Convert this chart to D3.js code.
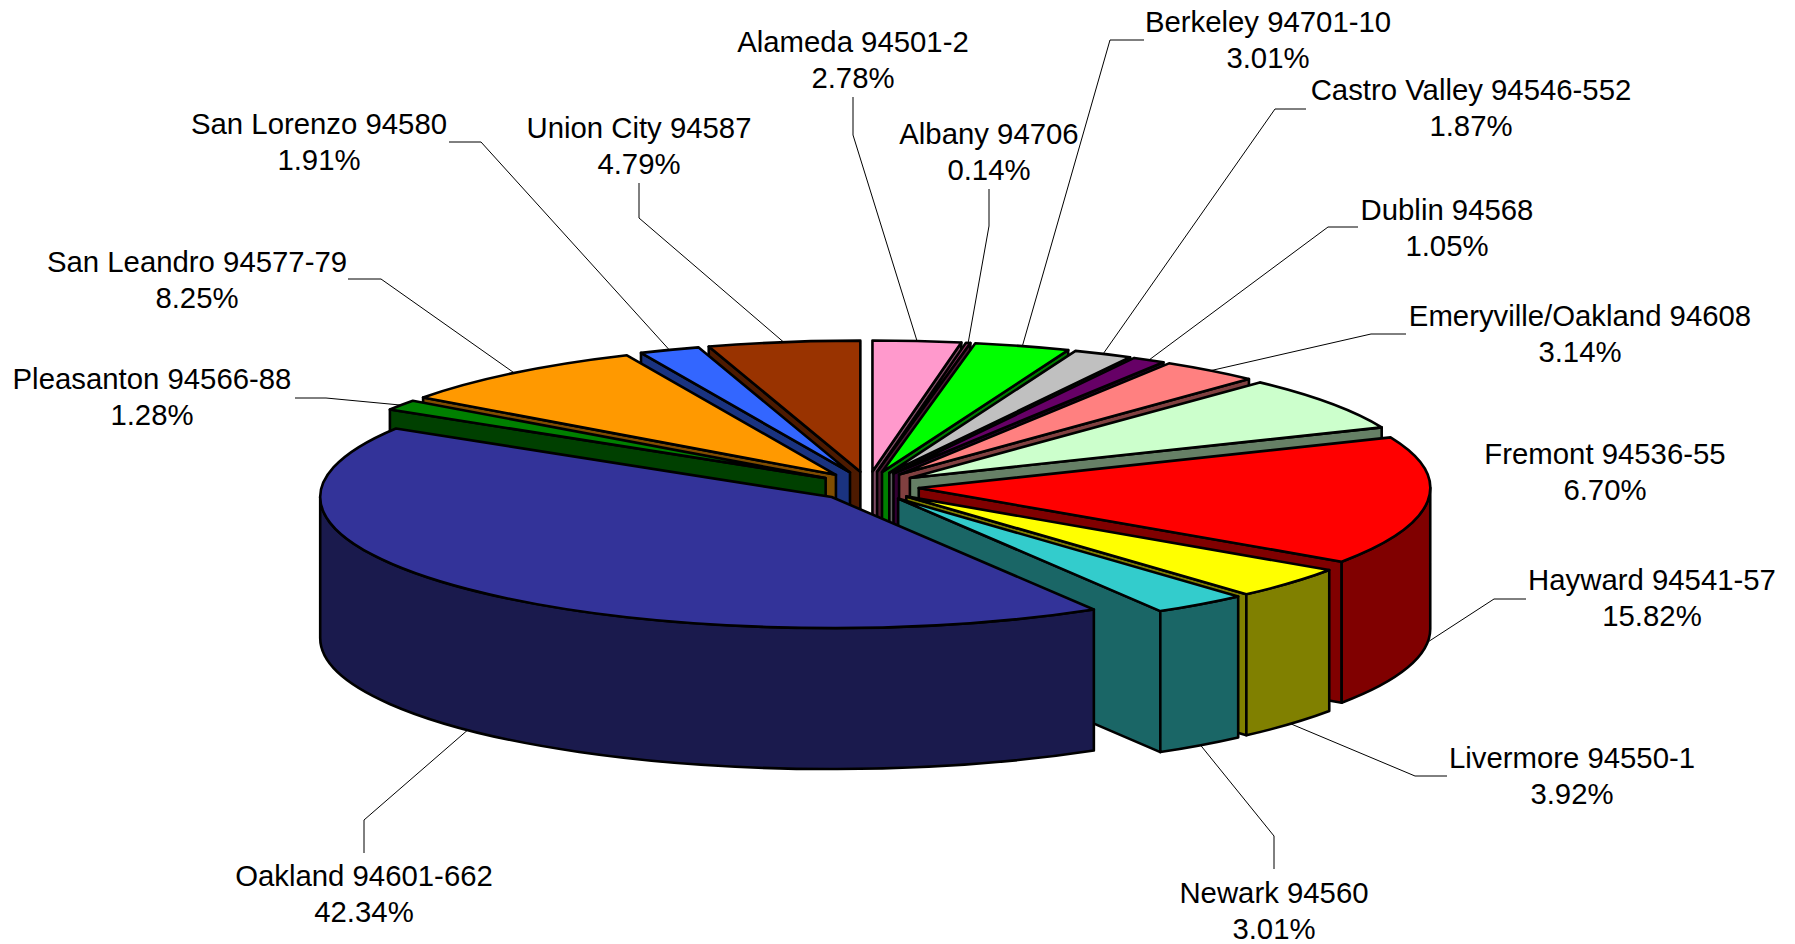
<!DOCTYPE html>
<html><head><meta charset="utf-8">
<style>html,body{margin:0;padding:0;background:#fff}svg{display:block}text{font-family:"Liberation Sans",Arial,sans-serif;font-size:29.33px;fill:#000}</style>
<script src="https://d3js.org/d3.v7.min.js"></script></head><body>
<svg id="c" width="1795" height="944"></svg>
<script>
const categories=["Alameda 94501-2","Albany 94706","Berkeley 94701-10","Castro Valley 94546-552","Dublin 94568","Emeryville/Oakland 94608","Fremont 94536-55","Hayward 94541-57","Livermore 94550-1","Newark 94560","Oakland 94601-662","Pleasanton 94566-88","San Leandro 94577-79","San Lorenzo 94580","Union City 94587"];
const values=[2.78,0.14,3.01,1.87,1.05,3.14,6.70,15.82,3.92,3.01,42.34,1.28,8.25,1.91,4.79];
const colors=["#FF99CC","#993366","#00FF00","#C0C0C0","#660066","#FF8080","#CCFFCC","#FF0000","#FFFF00","#33CCCC","#333399","#008000","#FF9900","#3366FF","#993300"];
// label centre positions (first line) and leader elbows
const labelX=[853,989,1268,1471,1447,1580,1605,1652,1572,1274,364,152,197,319,639];
const labelY=[42,134,22,90,210,316,454,580,758,893,876,379,262,124,128];
const leaders=[[[853,97],[853,135]],[[989,189],[989,226]],[[1144,40],[1110,40]],[[1306,109],[1275,109]],[[1358,227],[1328,227]],[[1406,334],[1371,334]],null,[[1526,599],[1494,599]],[[1447,776],[1415,776]],[[1274,869],[1274,836]],[[364,853],[364,820]],[[295,398],[326,398]],[[348,279],[381,279]],[[449,142],[481,142]],[[639,183],[639,218]]];
const cx=868,cy=486.5,rx=511.5,ry=131,depth=141,explodeX=51,explodeY=15;

const svg=d3.select("#c");
const arcs=d3.pie().sort(null).value(d=>d)(values);
const items=arcs.map((a,i)=>{
  const s=a.startAngle,e=a.endAngle,m=(s+e)/2;
  const ox=cx+explodeX*Math.sin(m),oy=cy-explodeY*Math.cos(m);
  return {i,s,e,m,ox,oy,pt:t=>[ox+rx*Math.sin(t),oy-ry*Math.cos(t)]};
});
const key=d=>(d.s<Math.PI&&d.e>Math.PI)?Infinity:-Math.cos(d.m);
const order=items.slice().sort((p,q)=>key(p)-key(q));
const arcTo=(p,large,sweep)=>`A${rx},${ry} 0 ${large} ${sweep} ${p[0]},${p[1]}`;
const side=c=>{const k=d3.rgb(c);return d3.rgb(k.r*.5,k.g*.5,k.b*.5).formatHex();};
const g=svg.append("g").attr("stroke","#000").attr("stroke-width",2.6).attr("stroke-linejoin","round");
order.forEach(d=>{
  const col=colors[d.i],dk=side(col),A=d.pt(d.s),B=d.pt(d.e);
  const wall=(p)=>`M${d.ox},${d.oy}L${p[0]},${p[1]}L${p[0]},${p[1]+depth}L${d.ox},${d.oy+depth}Z`;
  if(Math.sin(d.e)>0) g.append("path").attr("d",wall(B)).attr("fill",dk);
  if(Math.sin(d.s)<-1e-6) g.append("path").attr("d",wall(A)).attr("fill",dk);
  const t0=Math.max(d.s,Math.PI/2),t1=Math.min(d.e,3*Math.PI/2);
  if(t1>t0){
    const P=d.pt(t0),Q=d.pt(t1);
    g.append("path").attr("d",`M${P[0]},${P[1]}${arcTo(Q,0,1)}L${Q[0]},${Q[1]+depth}${arcTo([P[0],P[1]+depth],0,0)}Z`).attr("fill",dk);
  }
  g.append("path").attr("d",`M${d.ox},${d.oy}L${A[0]},${A[1]}${arcTo(B,d.e-d.s>Math.PI?1:0,1)}Z`).attr("fill",col);
});
const line=d3.line();
items.forEach(d=>{
  const L=leaders[d.i];
  if(L){
    const R=d.pt(d.m),end=Math.cos(d.m)<0?[R[0],R[1]+depth]:R;
    svg.append("path").attr("d",line([L[0],L[1],end])).attr("fill","none").attr("stroke","#000").attr("stroke-width",1);
  }
  const t=svg.append("text").attr("text-anchor","middle");
  t.append("tspan").attr("x",labelX[d.i]).attr("y",labelY[d.i]+10).text(categories[d.i]);
  t.append("tspan").attr("x",labelX[d.i]).attr("y",labelY[d.i]+46).text(values[d.i].toFixed(2)+"%");
});
</script></body></html>
